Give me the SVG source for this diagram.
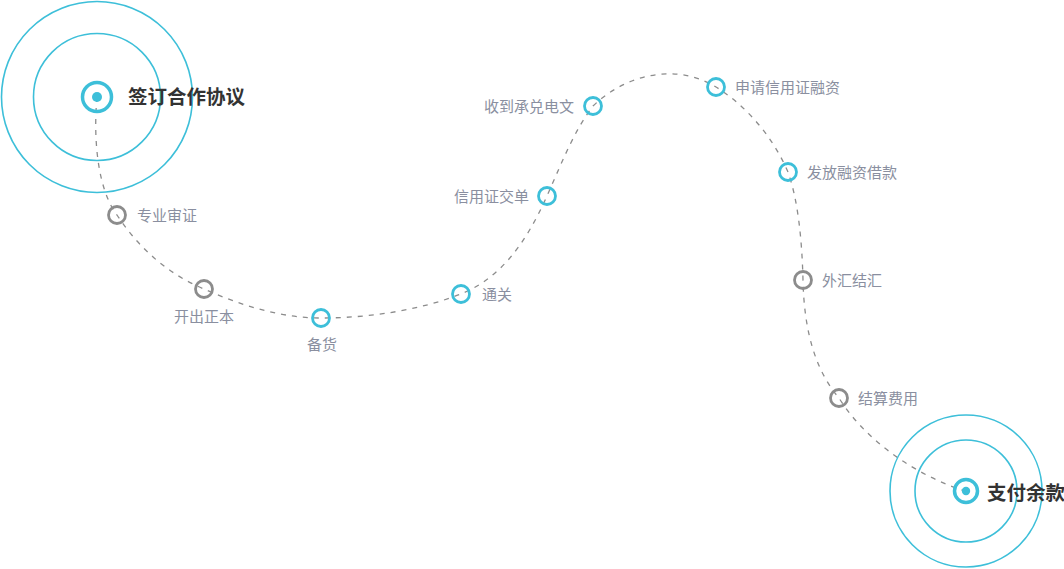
<svg xmlns="http://www.w3.org/2000/svg" width="1064" height="569" viewBox="0 0 1064 569">
<style>
.ring{fill:none;stroke:#3dbfd9;stroke-width:1.6}
.hub{fill:none;stroke:#3dbfd9;stroke-width:3.5}
.dot{fill:#3dbfd9}
.nc{fill:none;stroke:#3dbfd9;stroke-width:2.8}
.ng{fill:none;stroke:#8c8c8c;stroke-width:2.8}
.lbl{font-family:"Noto Sans CJK SC","Noto Sans",sans-serif;font-size:15px;fill:#8a8fa0}
.big{font-family:"Noto Sans CJK SC","Noto Sans",sans-serif;font-size:19.5px;font-weight:bold;fill:#333}
.path{fill:none;stroke:#8c8c8c;stroke-width:1.3;stroke-dasharray:5 6}
</style>
<rect width="1064" height="569" fill="#fff"/>
<g id="connectors">
<path class="path" d="M97,97 C93,140 98,190 117,215 C140,250 170,275 204,289 C240,305 280,318 321,318 C370,318 420,310 461,294 C500,278 525,245 547,196 C565,155 575,130 593,106 C625,75 675,62 716,87 C745,105 772,135 788,172 C798,200 802,240 803,280 C804,330 815,370 839,398 C865,440 915,475 965,491"/>
</g>
<g id="start">
<circle class="ring" cx="97" cy="97" r="95.5"/>
<circle class="ring" cx="97" cy="97" r="63.5"/>
<circle class="hub" cx="97" cy="97" r="14.5"/>
<circle class="dot" cx="97" cy="97" r="5"/>
<text class="big" x="128" y="104">签订合作协议</text>
</g>
<g id="n1"><circle class="ng" cx="117" cy="215" r="8.5"/><text class="lbl" x="137" y="220.5">专业审证</text></g>
<g id="n2"><circle class="ng" cx="204" cy="289" r="8.5"/><text class="lbl" x="204" y="321.5" text-anchor="middle">开出正本</text></g>
<g id="n3"><circle class="nc" cx="321" cy="318" r="8.5"/><text class="lbl" x="322" y="349.5" text-anchor="middle">备货</text></g>
<g id="n4"><circle class="nc" cx="461" cy="294" r="8.5"/><text class="lbl" x="482" y="299.5">通关</text></g>
<g id="n5"><circle class="nc" cx="547" cy="196" r="8.5"/><text class="lbl" x="529" y="201.5" text-anchor="end">信用证交单</text></g>
<g id="n6"><circle class="nc" cx="593" cy="106" r="8.5"/><text class="lbl" x="574" y="111.5" text-anchor="end">收到承兑电文</text></g>
<g id="n7"><circle class="nc" cx="716" cy="87" r="8.5"/><text class="lbl" x="735" y="92.5">申请信用证融资</text></g>
<g id="n8"><circle class="nc" cx="788" cy="172" r="8.5"/><text class="lbl" x="807" y="177.5">发放融资借款</text></g>
<g id="n9"><circle class="ng" cx="803" cy="280" r="8.5"/><text class="lbl" x="822" y="285.5">外汇结汇</text></g>
<g id="n10"><circle class="ng" cx="839" cy="398" r="8.5"/><text class="lbl" x="858" y="403.5">结算费用</text></g>
<g id="end">
<circle class="ring" cx="966" cy="491" r="76"/>
<circle class="ring" cx="966" cy="491" r="51"/>
<circle class="hub" cx="966" cy="491" r="11.5" stroke-width="3"/>
<circle class="dot" cx="966" cy="491" r="4.2"/>
<text class="big" x="987" y="500">支付余款</text>
</g>
</svg>
